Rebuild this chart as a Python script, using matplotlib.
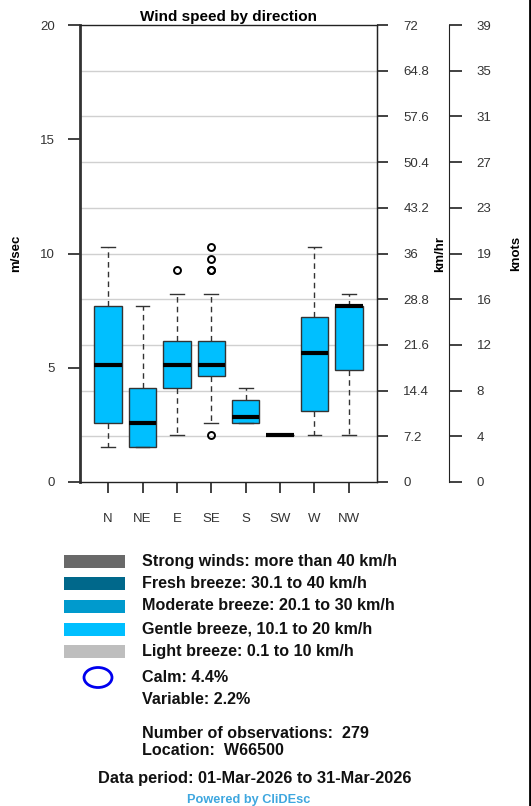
import matplotlib
matplotlib.use("Agg")
import matplotlib.pyplot as plt
from matplotlib.patches import Rectangle, Ellipse
from matplotlib.lines import Line2D

plt.rcParams['font.family'] = ['Liberation Sans', 'DejaVu Sans']

# Wind direction boxplot statistics (m/s)
directions = ["N", "NE", "E", "SE", "S", "SW", "W", "NW"]
whisker_low = [1.54, 1.54, 2.06, 2.57, 2.57, 2.06, 2.06, 2.06]
quartile_1 = [2.57, 1.54, 4.12, 4.63, 2.57, 2.06, 3.09, 4.89]
medians = [5.14, 2.57, 5.14, 5.14, 2.83, 2.06, 5.66, 7.72]
quartile_3 = [7.72, 4.12, 6.17, 6.17, 3.60, 2.06, 7.20, 7.72]
whisker_high = [10.29, 7.72, 8.23, 8.23, 4.12, 2.06, 10.29, 8.23]
outliers = [[], [], [9.26], [10.29, 9.77, 9.26, 9.26, 2.06], [], [], [], []]

# Secondary scales
kmh_ticks = [0, 7.2, 14.4, 21.6, 28.8, 36, 43.2, 50.4, 57.6, 64.8, 72]
knot_labels = [0, 4, 8, 12, 16, 19, 23, 27, 31, 35, 39]
ms_ticks = [0, 5, 10, 15, 20]

# Legend content
class_labels = ["Strong winds: more than 40 km/h",
                "Fresh breeze: 30.1 to 40 km/h",
                "Moderate breeze: 20.1 to 30 km/h",
                "Gentle breeze, 10.1 to 20 km/h",
                "Light breeze: 0.1 to 10 km/h"]
class_colors = ["#696969", "#00688B", "#009ACD", "#00BFFF", "#BEBEBE"]
calm_text = "Calm: 4.4%"
variable_text = "Variable: 2.2%"
n_obs = 279
location = "W66500"
period = "Data period: 01-Mar-2026 to 31-Mar-2026"

W, H = 531, 806
fig = plt.figure(figsize=(W / 100, H / 100), dpi=100)

def fx(px):
    return px / W

def fy(py):
    return 1 - py / H

ax_l, ax_r, ax_t, ax_b = 80, 377, 25, 482
ax = fig.add_axes([fx(ax_l), fy(ax_b), fx(ax_r - ax_l), (ax_b - ax_t) / H])

ms_grid = [k / 3.6 for k in kmh_ticks]
ax.hlines(ms_grid[1:-1], 0, 1, transform=ax.get_yaxis_transform(),
          colors="#d0d0d0", linewidth=1, zorder=0)

stats = []
for i, d in enumerate(directions):
    stats.append(dict(label=d, whislo=whisker_low[i], q1=quartile_1[i],
                      med=medians[i], q3=quartile_3[i],
                      whishi=whisker_high[i], fliers=outliers[i]))

positions = list(range(1, len(directions) + 1))
ax.bxp(stats, positions=positions, widths=0.8, capwidths=0.4,
       patch_artist=True, showfliers=True,
       boxprops=dict(facecolor="#00BFFF", edgecolor="#333333", linewidth=1),
       medianprops=dict(color="black", linewidth=3, solid_capstyle="butt"),
       whiskerprops=dict(color="#333333", linewidth=1, linestyle=(0, (4, 3))),
       capprops=dict(color="#333333", linewidth=1),
       flierprops=dict(marker="o", markerfacecolor="none",
                       markeredgecolor="black", markersize=5,
                       markeredgewidth=1.4),
       zorder=2)

n = len(directions)
ax.set_xlim(0.5 - 0.04 * n, n + 0.5 + 0.04 * n)
ax.set_ylim(0, 20)
ax.set_yticks(ms_ticks)
ax.set_yticklabels([str(v) for v in ms_ticks])
ax.set_xticks(positions)
ax.set_xticklabels(directions)
ax.tick_params(axis="y", direction="out", length=9, width=1.3,
               labelsize=9.5, pad=9, colors="#333333")
ax.tick_params(axis="x", direction="out", length=8, width=1.3,
               labelsize=9.5, pad=14, colors="#333333")
for s in ax.spines.values():
    s.set_color("#222222")
    s.set_linewidth(1)
ax.spines["left"].set_linewidth(2)
ax.spines["left"].set_color("#333333")
ax.set_title("Wind speed by direction", fontsize=11, fontweight="bold",
             pad=3)
ax.set_ylabel("m/sec", fontsize=9.5, fontweight="bold")
ax.yaxis.set_label_coords((22 - ax_l) / (ax_r - ax_l), 0.5)

# km/h scale on the right edge of the plot box
ax_kmh = ax.twinx()
ax_kmh.set_ylim(0, 20)
ax_kmh.set_yticks(ms_grid)
ax_kmh.set_yticklabels([("%g" % k) for k in kmh_ticks])
ax_kmh.tick_params(axis="y", direction="out", length=8, width=1.3,
                   labelsize=9.5, pad=11, colors="#333333")
for k in ("left", "top", "bottom"):
    ax_kmh.spines[k].set_visible(False)
ax_kmh.spines["right"].set_color("#222222")
ax_kmh.set_ylabel("km/hr", fontsize=9.5, fontweight="bold")
ax_kmh.yaxis.set_label_coords((434 - ax_l) / (ax_r - ax_l), 0.5)

# knots scale further out
ax_kt = ax.twinx()
ax_kt.set_ylim(0, 20)
ax_kt.spines["right"].set_position(("outward", (449 - ax_r) * 0.72))
ax_kt.set_yticks(ms_grid)
ax_kt.set_yticklabels([str(k) for k in knot_labels])
ax_kt.tick_params(axis="y", direction="out", length=9, width=1.3,
                  labelsize=9.5, pad=11, colors="#333333")
for k in ("left", "top", "bottom"):
    ax_kt.spines[k].set_visible(False)
ax_kt.spines["right"].set_color("#222222")
ax_kt.set_ylabel("knots", fontsize=9.5, fontweight="bold")
ax_kt.yaxis.set_label_coords((510 - ax_l) / (ax_r - ax_l), 0.5)

# Legend and footer, laid out in pixel coordinates
lg = fig.add_axes([0, 0, 1, 1])
lg.set_xlim(0, W)
lg.set_ylim(H, 0)
lg.axis("off")

fs = 11.6
row_y = [561.5, 583.5, 606, 629, 651.5]
for yy, lab, col in zip(row_y, class_labels, class_colors):
    lg.add_patch(Rectangle((64, yy - 6.5), 61, 13, facecolor=col,
                           edgecolor="none"))
    lg.text(142, yy, lab, fontsize=fs, fontweight="bold",
            va="center", ha="left", color="#111111")

lg.add_patch(Ellipse((98, 677.5), 28, 20, facecolor="none",
                     edgecolor="#0000EE", linewidth=2))
lg.text(142, 677, calm_text, fontsize=fs, fontweight="bold",
        va="center", ha="left", color="#111111")
lg.text(142, 699, variable_text, fontsize=fs, fontweight="bold",
        va="center", ha="left", color="#111111")
lg.text(142, 734, "Number of observations:  %d" % n_obs, fontsize=fs,
        fontweight="bold", va="center", ha="left", color="#111111")
lg.text(142, 750.5, "Location:  %s" % location, fontsize=fs,
        fontweight="bold", va="center", ha="left", color="#111111")
lg.text(254.5, 778, period, fontsize=11.8, fontweight="bold",
        va="center", ha="center", color="#111111")
lg.text(248.5, 800, "Powered by CliDEsc", fontsize=9.2, fontweight="bold",
        va="center", ha="center", color="#3FA7DF")

# right frame edge
lg.add_line(Line2D([529.8, 529.8], [0, H], color="black", linewidth=2))

fig.savefig("out.png", dpi=100)
